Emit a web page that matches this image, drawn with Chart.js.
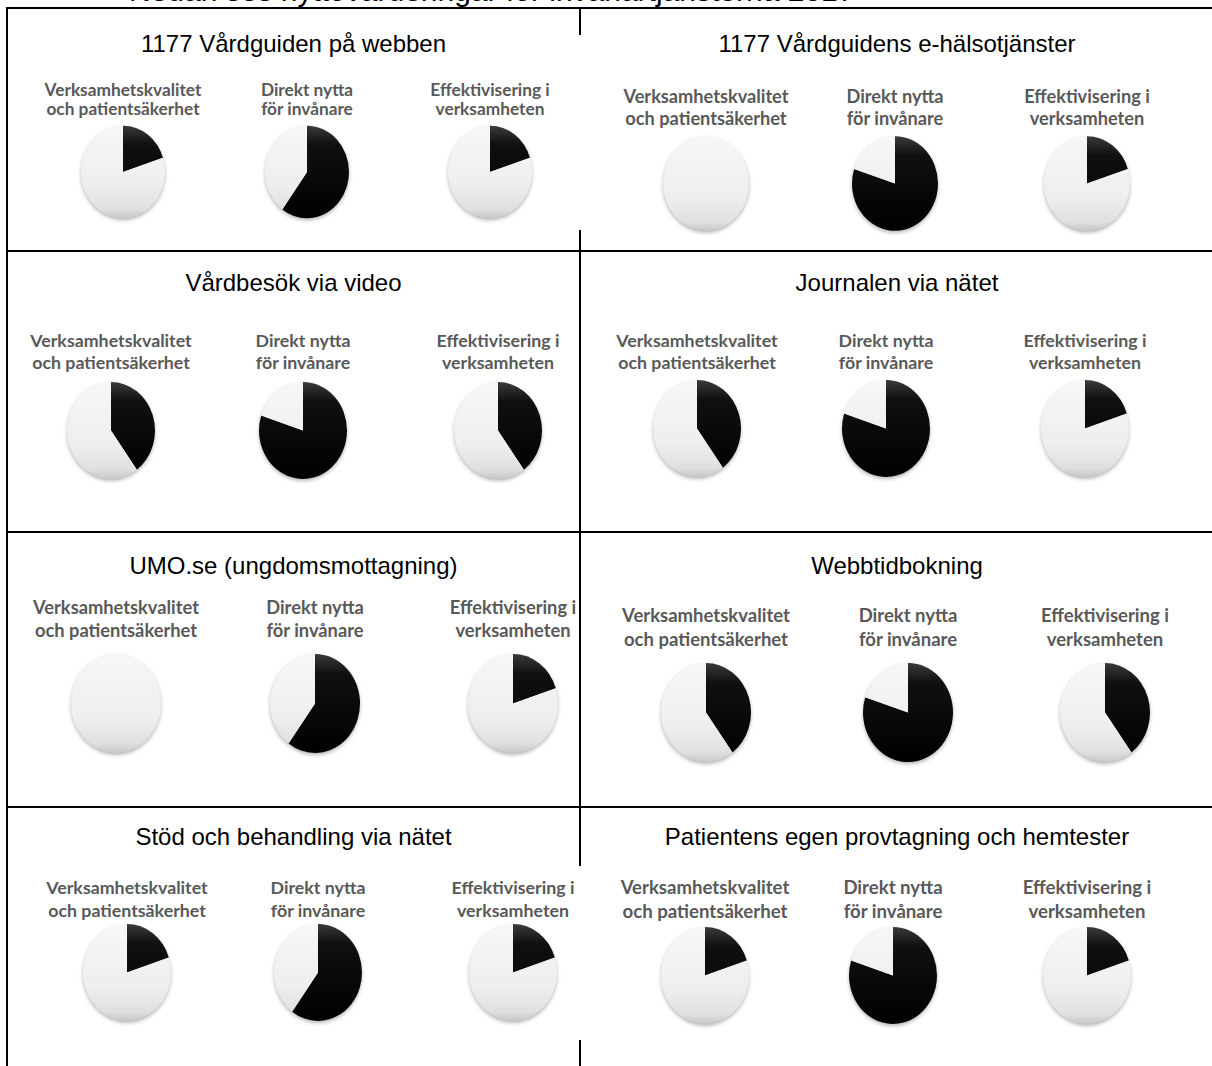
<!DOCTYPE html>
<html>
<head>
<meta charset="utf-8">
<script src="https://cdn.jsdelivr.net/npm/chart.js@4.4.0/dist/chart.umd.min.js"></script>
<style>
  html, body { margin: 0; padding: 0; background: #fff; }
  #page { position: relative; width: 1212px; height: 1066px; overflow: hidden; background: #fff; }
  .rule { position: absolute; background: #000; }
  .heading { position: absolute; font-family: "Liberation Sans", Arial, sans-serif; color: #000; white-space: nowrap; }
  .cell-title { position: absolute; font-family: "Liberation Sans", Arial, sans-serif; font-size: 24px; color: #000; text-align: center; white-space: nowrap; line-height: 26px; }
  .pie-label { position: absolute; font-family: Lato, "Open Sans", sans-serif; font-weight: bold; color: #595959; text-align: center; white-space: nowrap; }
  canvas { position: absolute; }
</style>
</head>
<body>
<div id="page"></div>
<script>
// data
const pageHeading = "Nedan ses nyttovärderingar för invånartjänsterna 2017";
const services = [
  "1177 Vårdguiden på webben",
  "1177 Vårdguidens e-hälsotjänster",
  "Vårdbesök via video",
  "Journalen via nätet",
  "UMO.se (ungdomsmottagning)",
  "Webbtidbokning",
  "Stöd och behandling via nätet",
  "Patientens egen provtagning och hemtester"
];
const dimensions = [
  ["Verksamhetskvalitet", "och patientsäkerhet"],
  ["Direkt nytta", "för invånare"],
  ["Effektivisering i", "verksamheten"]
];
// share (%) of each pie drawn in black
const qualityValues = [20, 0, 40, 40, 0, 40, 20, 20];
const citizenValues = [60, 80, 80, 80, 60, 80, 60, 80];
const efficiencyValues = [20, 20, 40, 20, 20, 40, 20, 20];

// layout of the table cells (page pixels)
const stretch = 1.1;
const cells = [
  { left: 7,   right: 580,  titleY: 44,  labelY: 90,  gap: 19, pieY: 172, xs: [123, 307, 490],  r: 42, font: 17.3 },
  { left: 580, right: 1214, titleY: 44,  labelY: 96,  gap: 22, pieY: 183, xs: [706, 895, 1087], r: 43, font: 18.2 },
  { left: 7,   right: 580,  titleY: 283, labelY: 340, gap: 22, pieY: 430, xs: [111, 303, 498],  r: 44, font: 17.8 },
  { left: 580, right: 1214, titleY: 283, labelY: 340, gap: 22, pieY: 428, xs: [697, 886, 1085], r: 44, font: 17.8 },
  { left: 7,   right: 580,  titleY: 566, labelY: 607, gap: 23, pieY: 703, xs: [116, 315, 513],  r: 45, font: 18.3 },
  { left: 580, right: 1214, titleY: 566, labelY: 615, gap: 24, pieY: 712, xs: [706, 908, 1105], r: 45, font: 18.5 },
  { left: 7,   right: 580,  titleY: 837, labelY: 887, gap: 23, pieY: 972, xs: [127, 318, 513],  r: 44, font: 17.8 },
  { left: 580, right: 1214, titleY: 837, labelY: 887, gap: 24, pieY: 975, xs: [705, 893, 1087], r: 44, font: 18.6 }
];

const page = document.getElementById("page");

function rule(x, y, w, h) {
  const d = document.createElement("div");
  d.className = "rule";
  d.style.cssText = `left:${x}px;top:${y}px;width:${w}px;height:${h}px`;
  page.appendChild(d);
}

// table frame
rule(7, 7, 1212, 2);
rule(6, 7, 2, 1066);
[250, 531, 806].forEach(y => rule(7, y, 1212, 2));
// middle divider is hidden behind the pasted pie pictures in row 1 and 4
[[7, 35], [230, 866], [1040, 1066]].forEach(([a, b]) => rule(579, a, 2, b - a));

const head = document.createElement("div");
head.className = "heading";
head.textContent = pageHeading;
head.style.cssText = "left:129px;top:-24px;font-size:30px;line-height:30px";
page.appendChild(head);

function gradient(chart, stops) {
  const area = chart.chartArea;
  if (!area) return stops[stops.length - 1][1];
  const g = chart.ctx.createLinearGradient(0, area.top, 0, area.bottom);
  stops.forEach(([p, c]) => g.addColorStop(p, c));
  return g;
}

const darkStops = [[0, "#3a3a3a"], [0.2, "#101010"], [1, "#000"]];
const lightStops = [[0, "#f7f7f7"], [0.65, "#eeeeee"], [0.9, "#e0e0e0"], [1, "#c8c8c8"]];

// stretch the pie a little vertically and give it a soft shadow
const stretchPlugin = {
  id: "stretch",
  beforeDatasetsDraw(chart) {
    const arc = chart.getDatasetMeta(0).data[0];
    const ctx = chart.ctx;
    ctx.save();
    ctx.translate(arc.x, arc.y);
    ctx.scale(1, stretch);
    ctx.translate(-arc.x, -arc.y);
    ctx.save();
    ctx.shadowColor = "rgba(0,0,0,0.35)";
    ctx.shadowBlur = 4;
    ctx.shadowOffsetY = 2;
    ctx.beginPath();
    ctx.arc(arc.x, arc.y, arc.outerRadius - 0.5, 0, Math.PI * 2);
    ctx.fillStyle = "#d8d8d8";
    ctx.fill();
    ctx.restore();
  },
  afterDatasetsDraw(chart) {
    chart.ctx.restore();
  }
};

function makePie(cx, cy, r, value) {
  const w = 2 * r + 20;
  const h = Math.round(2 * r * stretch) + 24;
  const canvas = document.createElement("canvas");
  canvas.width = w;
  canvas.height = h;
  canvas.style.cssText = `left:${cx - w / 2}px;top:${cy - h / 2}px;width:${w}px;height:${h}px`;
  page.appendChild(canvas);
  const padV = (h - 2 * r) / 2;
  new Chart(canvas, {
    type: "pie",
    data: {
      labels: ["Nytta", "Övrigt"],
      datasets: [{
        data: [value, 100 - value],
        backgroundColor: (c) => gradient(c.chart, c.dataIndex === 0 ? darkStops : lightStops),
        borderWidth: 0
      }]
    },
    options: {
      responsive: false,
      animation: false,
      events: [],
      layout: { padding: { left: 10, right: 10, top: padV, bottom: padV } },
      plugins: { legend: { display: false }, tooltip: { enabled: false } }
    },
    plugins: [stretchPlugin]
  });
}

cells.forEach((cell, i) => {
  const t = document.createElement("div");
  t.className = "cell-title";
  t.textContent = services[i];
  t.style.cssText = `left:${cell.left}px;width:${cell.right - cell.left}px;top:${cell.titleY - 13}px`;
  page.appendChild(t);

  const values = [qualityValues[i], citizenValues[i], efficiencyValues[i]];
  dimensions.forEach((lines, k) => {
    lines.forEach((line, j) => {
      const l = document.createElement("div");
      l.className = "pie-label";
      l.textContent = line;
      l.style.cssText = `left:${cell.xs[k] - 110}px;width:220px;top:${cell.labelY + j * cell.gap - 11}px;font-size:${cell.font}px;line-height:22px`;
      page.appendChild(l);
    });
    makePie(cell.xs[k], cell.pieY, cell.r, values[k]);
  });
});
</script>
</body>
</html>
